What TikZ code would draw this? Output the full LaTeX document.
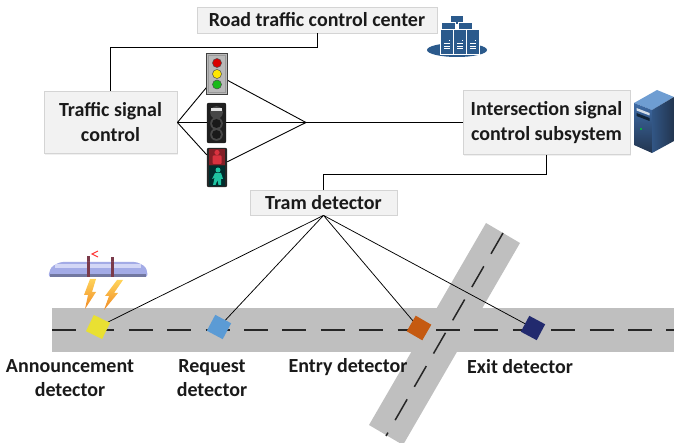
\documentclass[tikz,border=0pt]{standalone}
\usepackage{fontspec}
\setmainfont{Carlito}
\usetikzlibrary{calc,shadows}

\definecolor{boxfill}{HTML}{F2F2F2}
\definecolor{boxline}{HTML}{D4D4D4}
\definecolor{inktext}{HTML}{1A1A1A}
\definecolor{roadgray}{HTML}{BFBFBF}
\definecolor{detyellow}{HTML}{E9E032}
\definecolor{detblue}{HTML}{5B9BD5}
\definecolor{detorange}{HTML}{C55A11}
\definecolor{detnavy}{HTML}{222A6E}
\definecolor{srvblue}{HTML}{2B5A8C}
\definecolor{srvtop}{HTML}{6E9DD2}
\definecolor{srvfront}{HTML}{3E6BA6}
\definecolor{srvside}{HTML}{22354F}
\definecolor{tramblue}{HTML}{A3ABE6}
\definecolor{tramlight}{HTML}{D3D7F6}
\definecolor{trampole}{HTML}{7A3A4A}
\definecolor{boltyellow}{HTML}{FFD35A}
\definecolor{boltorange}{HTML}{F08A24}
\definecolor{pedred}{HTML}{D8323F}
\definecolor{pedgreen}{HTML}{1FC4A2}

\tikzset{
  infobox/.style={draw=boxline, fill=boxfill, line width=0.8pt, inner sep=2pt,
    text=inktext, font=\fontsize{20}{25}\selectfont\bfseries, align=center,
    drop shadow={opacity=0.12, shadow xshift=1.2pt, shadow yshift=-1.2pt}},
  wire/.style={draw=black, line width=0.9pt},
  thinwire/.style={draw=black, line width=0.75pt},
  detector/.style={minimum size=18pt, inner sep=0pt, outer sep=0pt},
  detlabel/.style={text=inktext, font=\fontsize{20}{24}\selectfont\bfseries, align=center},
  lane/.style={draw=black!85, line width=1.5pt, dash pattern=on 24pt off 14.4pt},
}

\begin{document}
\begin{tikzpicture}[x=1pt, y=-1pt]
\useasboundingbox (0,0) rectangle (674,443);

% ---------- roads ----------
\fill[roadgray] (486,223) -- (520,243) -- (403,445) -- (369,425) -- cycle;
\fill[roadgray] (52,308) rectangle (674,352);
\coordinate (laneW) at (52,330);
\coordinate (laneE) at (674,330);
\coordinate (crossN) at (503,233);
\coordinate (crossS) at (386,436);
\draw[lane] (laneW) -- (laneE);
\draw[lane] (crossN) -- (crossS);

% ---------- boxes ----------
\node[infobox, minimum width=240pt, minimum height=26pt] (rtcc) at (317,20) {Road traffic control center};
\node[infobox, minimum width=133pt, minimum height=62pt] (tsc) at (110.5,122.5) {Traffic signal\\control};
\node[infobox, minimum width=167pt, minimum height=64pt] (iscs) at (546.5,122.5) {Intersection signal\\control subsystem};
\node[infobox, minimum width=147pt, minimum height=25pt] (tram) at (323.5,202.5) {Tram detector};

% ---------- signal heads (frames used as connector targets) ----------
\node[minimum width=20pt, minimum height=40pt, inner sep=0pt] (L1) at (217,74) {};
\node[minimum width=19pt, minimum height=40pt, inner sep=0pt] (L2) at (216.5,123) {};
\node[minimum width=20pt, minimum height=39pt, inner sep=0pt] (L3) at (217,167.5) {};
\coordinate (J) at (306,122.5);

% ---------- upper connectors ----------
\draw[wire] (rtcc.south) -- ++(0,14) -| (tsc.north);
\draw[wire] (tsc.east) -- (L1.232);
\draw[wire] (tsc.east) -- (L3.129);
\draw[wire] (tsc.east) -- (J);
\draw[wire] (L1.-31) -- (J);
\draw[wire] (L3.29) -- (J);
\draw[wire] (J) -- (iscs.west);
\draw[wire] (iscs.south) -- ++(0,20) -| (tram.north);

% vehicle signal
\filldraw[fill=gray!55, draw=black!75, line width=0.9pt] (L1.south west) rectangle (L1.north east);
\draw[gray!80, line width=0.6pt] ($(L1.south west)+(1.8,-1.8)$) rectangle ($(L1.north east)+(-1.8,1.8)$);
\filldraw[fill=red!85!black, draw=black!70, line width=0.5pt] (217,63) circle (4.5);
\filldraw[fill=yellow!90!orange, draw=black!70, line width=0.5pt] (217,74) circle (4.5);
\filldraw[fill=green!70!black!90, draw=black!70, line width=0.5pt] (217,84.5) circle (4.5);

% tram signal
\fill[black!88, rounded corners=2pt] (L2.south west) rectangle (L2.north east);
\fill[black!72] (216.5,112.5) circle (6.3);
\fill[black!72] (216.5,123.5) circle (6.3);
\fill[black!72] (216.5,134.5) circle (6.3);
\fill[black!90] (216.5,123.5) circle (4.5);
\fill[black!90] (216.5,134.5) circle (4.5);
\fill[white!88!black] (211,108.5) rectangle (222,111.5);

% pedestrian signal
\fill[black!85, rounded corners=2pt] (L3.south west) rectangle (L3.north east);
\fill[black!65!teal] (209,166) rectangle (225,186);
\fill[pedred!60!black] (209,149) rectangle (225,165);
\fill[pedred] (217,152.5) circle (2.6);
\fill[pedred, rounded corners=1pt] (212.5,155.5) rectangle (221.5,164);
\fill[pedgreen] (218,170) circle (2.5);
\fill[pedgreen] (215,173) -- (221,173) -- (223,179) -- (221,179) -- (221,185) -- (218.5,185)
  -- (217.5,180) -- (215.5,185) -- (213,185) -- (214.5,178) -- (212,179) -- cycle;

% ---------- server cluster ----------
\fill[srvblue] (457,50) ellipse (30 and 7);
\filldraw[fill=srvblue, draw=white, line width=0.6pt] (450,15) rectangle (463,24);
\filldraw[fill=srvblue, draw=white, line width=0.6pt] (441,22) rectangle (455,31);
\filldraw[fill=srvblue, draw=white, line width=0.6pt] (458,22) rectangle (472,31);
\foreach \x in {440,453,466} {
  \filldraw[fill=srvblue, draw=white, line width=0.7pt] (\x,29) rectangle (\x+13.5,54);
  \fill[white] (\x+9,40) rectangle (\x+10.2,41.2);
  \draw[white, line width=0.5pt] (\x+4,43.5) -- (\x+9.5,43.5);
  \draw[white, line width=0.5pt] (\x+4,46) -- (\x+9.5,46);
  \draw[white, line width=0.5pt] (\x+4,48.5) -- (\x+9.5,48.5);
}

% ---------- tower server ----------
\fill[srvtop] (634,103) -- (657,90) -- (674,97) -- (652,110) -- cycle;
\shade[top color=srvfront, bottom color=srvside] (634,103) -- (652,110) -- (652,153) -- (634,145) -- cycle;
\shade[left color=srvfront!80!black, right color=srvside] (652,110) -- (674,97) -- (674,141) -- (652,153) -- cycle;
\fill[white!80!srvblue] (636.5,108) -- (649.5,113) -- (649.5,115.5) -- (636.5,110.5) -- cycle;
\fill[black!60!srvblue] (636.5,113) -- (649.5,118) -- (649.5,121) -- (636.5,116) -- cycle;
\fill[green!60!teal] (641,129) circle (1.2);

% ---------- tram with pantograph and radio link ----------
\fill[trampole] (87,256) rectangle (90,277);
\fill[trampole] (111,257) rectangle (114,277);
\draw[red!80, line width=1pt] (98,251) -- (92,254) -- (98,257);
\fill[tramblue, rounded corners=3pt] (48,277) -- (51,267) -- (60,262) -- (137,262) -- (146,267) -- (148,277) -- cycle;
\fill[tramlight] (55,264.5) rectangle (141,268);
\fill[tramblue!70!black] (50,274.5) rectangle (146,277.5);
\fill[trampole] (87,262) rectangle (90,277);
\fill[trampole] (111,262) rectangle (114,277);
\shade[top color=boltyellow, bottom color=boltorange]
  (90,279) -- (96,279) -- (92,292) -- (96,292) -- (85,309) -- (88,295) -- (84,295) -- cycle;
\shade[top color=boltyellow, bottom color=boltorange]
  (117,280) -- (123,280) -- (114,293) -- (118,293) -- (104,310) -- (109,296) -- (105,296) -- cycle;

% ---------- detectors ----------
\coordinate (dA) at (98,327);
\coordinate (dR) at (219,327);
\coordinate (dE) at (419,328);
\coordinate (dX) at (533,328);
\draw[thinwire] (tram.south) -- (dA);
\draw[thinwire] (tram.south) -- (dR);
\draw[thinwire] (tram.south) -- (dE);
\draw[thinwire] (tram.south) -- (dX);
\node[detector, fill=detyellow, rotate=-26] (d1) at (dA) {};
\node[detector, fill=detblue, rotate=-28] (d2) at (dR) {};
\node[detector, fill=detorange, rotate=-30] (d3) at (dE) {};
\node[detector, fill=detnavy, rotate=-28] (d4) at (dX) {};

% ---------- detector labels ----------
\node[detlabel] (t1) at (70,378) {Announcement\\detector};
\node[detlabel] (t2) at (212,378) {Request\\detector};
\node[detlabel] (t3) at (348,367) {Entry detector};
\node[detlabel] (t4) at (520,367) {Exit detector};

\end{tikzpicture}
\end{document}
